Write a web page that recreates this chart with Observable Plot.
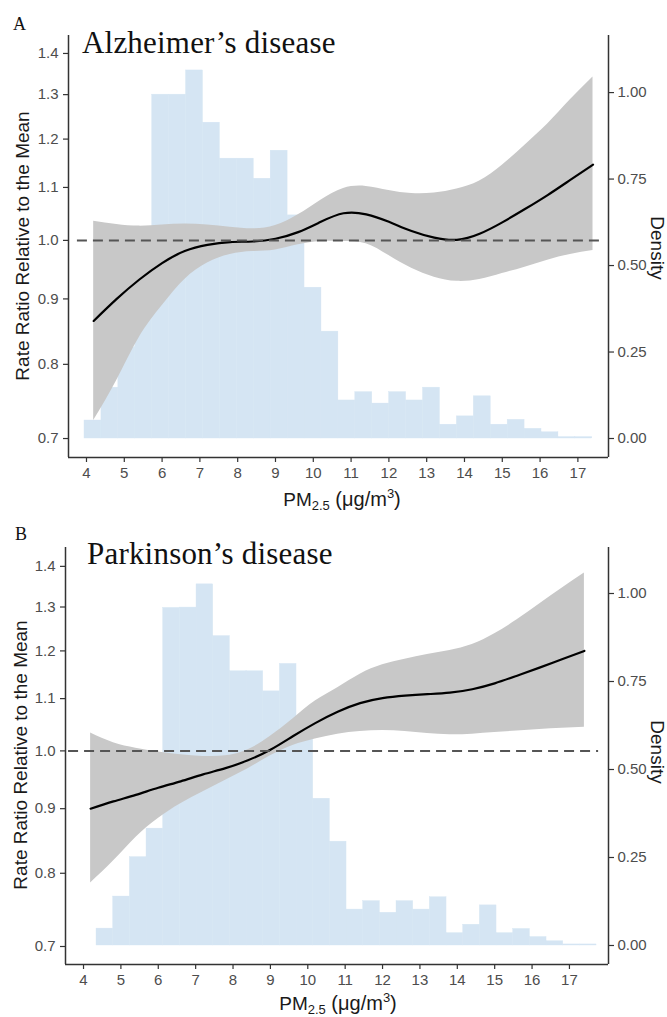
<!DOCTYPE html>
<html><head><meta charset="utf-8">
<script src="https://cdn.jsdelivr.net/npm/d3@7"></script>
<script src="https://cdn.jsdelivr.net/npm/@observablehq/plot@0.6"></script>
<style>
html,body{margin:0;padding:0;background:#fff;overflow:hidden}
#wrap{position:relative;width:667px;height:1017px}
#wrap svg{position:absolute;left:0}
</style></head><body><div id="wrap"></div>
<script>
// ---------- data ----------
const pm = [4.19, 4.8, 5.4, 6.0, 6.6, 7.2, 7.8, 8.4, 9.0, 9.6, 10.2, 10.8, 11.4, 12.0, 12.6, 13.2, 13.8, 14.4, 15.0, 15.6, 16.2, 16.8, 17.4];

const rrAD = [0.865, 0.900, 0.932, 0.960, 0.981, 0.992, 0.997, 0.998, 1.003, 1.015, 1.034, 1.050, 1.048, 1.034, 1.017, 1.005, 1.001, 1.012, 1.033, 1.058, 1.085, 1.115, 1.146];
const loAD = [0.723, 0.777, 0.840, 0.889, 0.932, 0.960, 0.975, 0.980, 0.983, 0.992, 0.998, 0.998, 0.994, 0.973, 0.951, 0.936, 0.929, 0.932, 0.942, 0.953, 0.965, 0.975, 0.982];
const hiAD = [1.035, 1.029, 1.026, 1.028, 1.030, 1.028, 1.024, 1.021, 1.027, 1.047, 1.075, 1.098, 1.102, 1.094, 1.088, 1.089, 1.097, 1.113, 1.145, 1.187, 1.233, 1.288, 1.342];

const rrPD = [0.900, 0.912, 0.923, 0.935, 0.946, 0.958, 0.969, 0.983, 1.002, 1.027, 1.052, 1.074, 1.091, 1.101, 1.106, 1.109, 1.112, 1.119, 1.131, 1.147, 1.164, 1.182, 1.200];
const loPD = [0.786, 0.818, 0.854, 0.884, 0.908, 0.928, 0.948, 0.968, 0.991, 1.010, 1.022, 1.031, 1.036, 1.038, 1.036, 1.032, 1.030, 1.031, 1.034, 1.037, 1.040, 1.042, 1.044];
const hiPD = [1.033, 1.015, 1.005, 0.998, 0.993, 0.990, 0.991, 1.002, 1.027, 1.060, 1.095, 1.122, 1.150, 1.170, 1.182, 1.192, 1.201, 1.214, 1.238, 1.270, 1.307, 1.345, 1.383];

const binStartAD = 3.947, binWidthAD = 0.4478;
const densityAD = [0.052, 0.147, 0.264, 0.35, 0.994, 0.994, 1.064, 0.913, 0.809, 0.809, 0.751, 0.832, 0.645, 0.436, 0.309, 0.110, 0.134, 0.101, 0.134, 0.110, 0.147, 0.040, 0.064, 0.122, 0.040, 0.054, 0.028, 0.018, 0.004, 0.004];
const binStartPD = 4.348, binWidthPD = 0.4459;
const densityPD = [0.048, 0.139, 0.251, 0.332, 0.959, 0.960, 1.026, 0.879, 0.779, 0.779, 0.722, 0.800, 0.620, 0.417, 0.295, 0.102, 0.126, 0.093, 0.126, 0.102, 0.137, 0.035, 0.059, 0.114, 0.035, 0.047, 0.024, 0.012, 0.003, 0.003];

const refLineAD = {y: 1, x1: 3.76, x2: 17.57};
const refLinePD = {y: 1, x1: 3.60, x2: 17.78};

const rrTicks = [0.7, 0.8, 0.9, 1.0, 1.1, 1.2, 1.3, 1.4];
const densTicks = [0, 0.25, 0.5, 0.75, 1.0];
const pmTicks = [4, 5, 6, 7, 8, 9, 10, 11, 12, 13, 14, 15, 16, 17];

const letters = ["A", "B"];
const titles = ["Alzheimer\u2019s disease", "Parkinson\u2019s disease"];
const yLabel = "Rate Ratio Relative to the Mean";
const y2Label = "Density";

// ---------- layout ----------
const panels = [
  {top: 0, h: 500, mt: 35, mb: 43, ml: 68, mr: 59,
   xDomain: [3.524, 17.81], rrDomain: [0.6765, 1.446], densDomain: [-0.0549, 1.165],
   rr: rrAD, lo: loAD, hi: hiAD, binStart: binStartAD, binWidth: binWidthAD, dens: densityAD, ref: refLineAD},
  {top: 500, h: 517, mt: 47, mb: 53, ml: 65, mr: 59,
   xDomain: [3.518, 18.045], rrDomain: [0.6774, 1.449], densDomain: [-0.054, 1.1307],
   rr: rrPD, lo: loPD, hi: hiPD, binStart: binStartPD, binWidth: binWidthPD, dens: densityPD, ref: refLinePD}
];

const wrap = document.getElementById("wrap");
const font = "'Liberation Sans', Arial, sans-serif";
const axisCol = "#333";
const textCol = "#4d4d4d";

panels.forEach((p) => {
  const curve = pm.map((x, i) => ({x, rr: p.rr[i], lo: p.lo[i], hi: p.hi[i]}));
  const bins = p.dens.map((d, i) => ({x1: p.binStart + i * p.binWidth, x2: p.binStart + (i + 1) * p.binWidth, d}));
  const common = {
    width: 667, height: p.h, marginTop: p.mt, marginBottom: p.mb, marginLeft: p.ml, marginRight: p.mr,
    style: {background: "transparent", fontFamily: font, fontSize: "15px", overflow: "visible"}
  };
  const hist = Plot.plot({
    ...common,
    x: {domain: p.xDomain, axis: null},
    y: {domain: p.densDomain, axis: null},
    marks: [
      Plot.rectY(bins, {x1: "x1", x2: "x2", y: "d", fill: "#d5e5f3", stroke: "#d5e5f3", strokeWidth: 0.4}),
      Plot.axisY({anchor: "right", ticks: densTicks, tickFormat: d3.format(".2f"), tickSize: 5, tickPadding: 4,
                  label: null, stroke: axisCol, fill: textCol, strokeWidth: 1.2})
    ]
  });
  const main = Plot.plot({
    ...common,
    x: {domain: p.xDomain, axis: null},
    y: {type: "log", domain: p.rrDomain, axis: null},
    marks: [
      Plot.areaY(curve, {x: "x", y1: "lo", y2: "hi", fill: "#c8c8c8", curve: "natural"}),
      Plot.line(curve, {x: "x", y: "rr", stroke: "#000", strokeWidth: 2.2, curve: "natural"}),
      Plot.ruleY([p.ref], {y: "y", x1: "x1", x2: "x2", stroke: "#555", strokeWidth: 2, strokeDasharray: "10,6"}),
      Plot.ruleX([p.xDomain[0]], {stroke: axisCol, strokeWidth: 1.5}),
      Plot.ruleX([p.xDomain[1]], {stroke: axisCol, strokeWidth: 1.5}),
      Plot.ruleY([p.rrDomain[0]], {stroke: axisCol, strokeWidth: 1.5}),
      Plot.axisY({ticks: rrTicks, tickFormat: d3.format(".1f"), tickSize: 5, tickPadding: 5,
                  label: null, stroke: axisCol, fill: textCol, strokeWidth: 1.2}),
      Plot.axisX({ticks: pmTicks, tickSize: 5, tickPadding: 5, label: null,
                  stroke: axisCol, fill: textCol, strokeWidth: 1.2})
    ]
  });
  hist.style.top = p.top + "px";
  main.style.top = p.top + "px";
  wrap.appendChild(hist);
  wrap.appendChild(main);
});

// ---------- text overlay ----------
const svg = d3.select(wrap).append("svg")
  .attr("width", 667).attr("height", 1017)
  .style("top", "0px").style("pointer-events", "none");

const textLayout = [
  {letterX: 13, letterY: 30, titleX: 82, titleY: 53, ylX: 29, ylY: 246, y2X: 651, y2Y: 248, xlX: 342, xlY: 506},
  {letterX: 15, letterY: 540, titleX: 87, titleY: 564, ylX: 27, ylY: 755, y2X: 651, y2Y: 752, xlX: 338, xlY: 1010}
];

textLayout.forEach((t, i) => {
  svg.append("text").attr("x", t.letterX).attr("y", t.letterY)
    .attr("font-family", "'Liberation Serif', 'Times New Roman', serif").attr("font-size", 18).attr("fill", "#111")
    .text(letters[i]);
  svg.append("text").attr("x", t.titleX).attr("y", t.titleY)
    .attr("font-family", "'Liberation Serif', 'Times New Roman', serif").attr("font-size", 31).attr("fill", "#111")
    .attr("letter-spacing", 0.2)
    .text(titles[i]);
  svg.append("text").attr("transform", `translate(${t.ylX},${t.ylY}) rotate(-90)`)
    .attr("text-anchor", "middle").attr("font-family", font).attr("font-size", 19).attr("fill", "#1a1a1a")
    .text(yLabel);
  svg.append("text").attr("transform", `translate(${t.y2X},${t.y2Y}) rotate(90)`)
    .attr("text-anchor", "middle").attr("font-family", font).attr("font-size", 19).attr("fill", "#1a1a1a")
    .text(y2Label);
  const xl = svg.append("text").attr("x", t.xlX).attr("y", t.xlY)
    .attr("text-anchor", "middle").attr("font-family", font).attr("font-size", 19).attr("fill", "#1a1a1a");
  xl.append("tspan").text("PM");
  xl.append("tspan").attr("font-size", 13).attr("dy", 4).text("2.5");
  xl.append("tspan").attr("dy", -4).attr("font-size", 20).text(" (\u03BCg/m");
  xl.append("tspan").attr("font-size", 13).attr("dy", -8).text("3");
  xl.append("tspan").attr("dy", 8).attr("font-size", 20).text(")");
});
</script></body></html>
